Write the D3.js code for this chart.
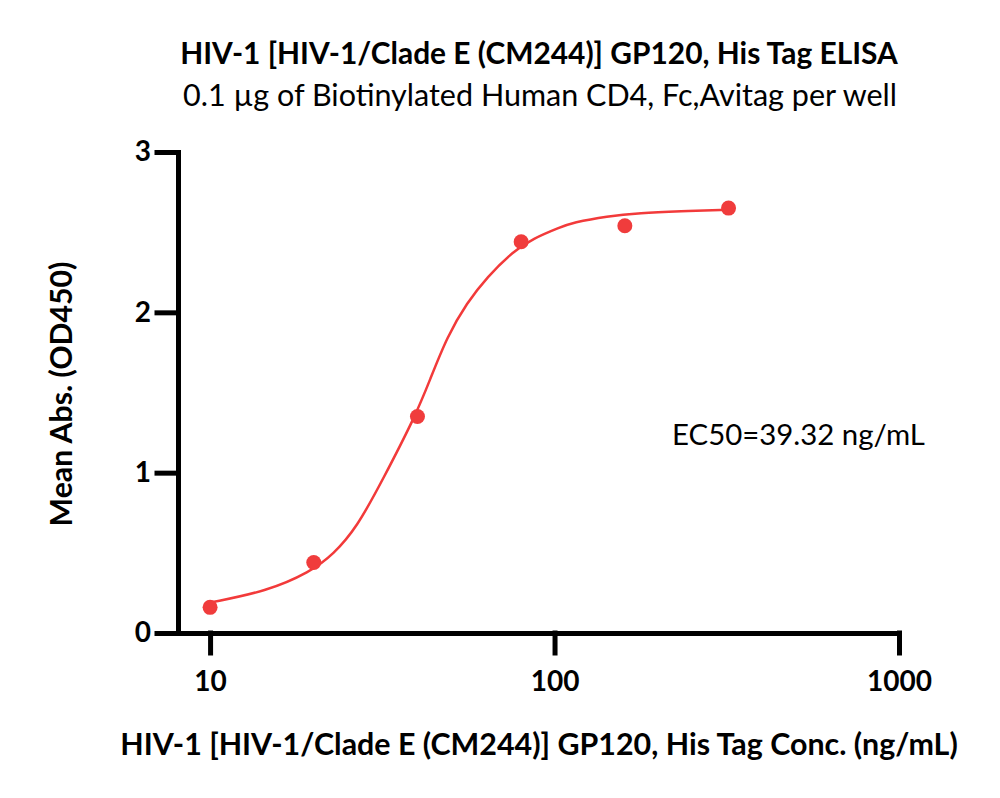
<!DOCTYPE html>
<html lang="en">
<head>
<meta charset="UTF-8">
<title>HIV-1 GP120 ELISA</title>
<script src="https://d3js.org/d3.v7.min.js"></script>
<style>
  body { margin: 0; background: #fff; }
  svg text { font-family: Lato, "Open Sans", sans-serif; fill: #000; }
  .axis path, .axis line { stroke: #000; stroke-width: 5; stroke-linecap: square; }
  .axis text { font-size: 28px; font-weight: bold; }
</style>
</head>
<body>
<svg id="chart" width="1000" height="798"></svg>
<script>
// measured points
const conc = [10, 20, 40, 80, 160, 320];
const od = [0.16, 0.44, 1.35, 2.44, 2.54, 2.65];

// fitted curve
const fitConc = [10, 14.6, 19.5, 22.8, 26.7, 31.6, 39.4, 43.5, 48.8, 55.7, 63.7, 75.8, 86.6, 103.7, 113, 142, 177, 231, 320];
const fitOd = [0.19, 0.26, 0.38, 0.49, 0.66, 0.95, 1.35, 1.58, 1.85, 2.06, 2.22, 2.38, 2.46, 2.53, 2.56, 2.60, 2.62, 2.63, 2.64];

const xTicks = [10, 100, 1000];
const yTicks = [0, 1, 2, 3];

const title = "HIV-1 [HIV-1/Clade E (CM244)] GP120, His Tag ELISA";
const subtitle = "0.1 \u00b5g of Biotinylated Human CD4, Fc,Avitag per well";
const xLabel = "HIV-1 [HIV-1/Clade E (CM244)] GP120, His Tag Conc. (ng/mL)";
const yLabel = "Mean Abs. (OD450)";
const ec50Label = "EC50=39.32 ng/mL";

const svg = d3.select("#chart");

const x = d3.scaleLog().domain([8.07, 1000]).range([178, 899]);
const y = d3.scaleLinear().domain([0, 3]).range([633, 152]);

// squeeze / stretch a text to the width it has in the picture
function fit(sel, w) {
  const n = sel.node();
  const fs = parseFloat(sel.attr("font-size"));
  sel.attr("font-size", fs * w / n.getComputedTextLength());
  return sel;
}

svg.append("g")
  .attr("class", "axis")
  .attr("transform", "translate(0,633)")
  .call(d3.axisBottom(x).tickValues(xTicks).tickFormat(d3.format("d")).tickSize(20).tickSizeOuter(0).tickPadding(18))
  .call(g => g.selectAll("text").attr("dy", "0.71em"));

svg.append("g")
  .attr("class", "axis")
  .attr("transform", "translate(178,0)")
  .call(d3.axisLeft(y).tickValues(yTicks).tickFormat(d3.format("d")).tickSize(21).tickSizeOuter(0).tickPadding(6));

const line = d3.line()
  .x((d, i) => x(fitConc[i]))
  .y(d => y(d))
  .curve(d3.curveBasis);

svg.append("path")
  .attr("d", line(fitOd))
  .attr("fill", "none")
  .attr("stroke", "#f23a3a")
  .attr("stroke-width", 2.5);

svg.selectAll(".dot")
  .data(od)
  .join("circle")
  .attr("class", "dot")
  .attr("cx", (d, i) => x(conc[i]))
  .attr("cy", d => y(d))
  .attr("r", 7.5)
  .attr("fill", "#f03c3c");

fit(svg.append("text")
  .attr("x", 539).attr("y", 64)
  .attr("text-anchor", "middle")
  .attr("font-size", 28).attr("font-weight", "bold")
  .text(title), 718);

fit(svg.append("text")
  .attr("x", 540).attr("y", 106)
  .attr("text-anchor", "middle")
  .attr("font-size", 28)
  .text(subtitle), 714);

fit(svg.append("text")
  .attr("x", 539).attr("y", 755)
  .attr("text-anchor", "middle")
  .attr("font-size", 28).attr("font-weight", "bold")
  .text(xLabel), 838);

fit(svg.append("text")
  .attr("transform", "translate(72,394) rotate(-90)")
  .attr("text-anchor", "middle")
  .attr("font-size", 28).attr("font-weight", "bold")
  .text(yLabel), 265);

fit(svg.append("text")
  .attr("x", 672).attr("y", 445)
  .attr("font-size", 28)
  .text(ec50Label), 253);
</script>
</body>
</html>
